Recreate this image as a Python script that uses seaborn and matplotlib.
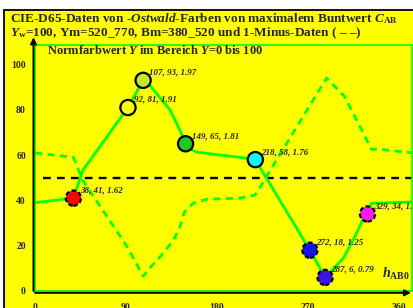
import matplotlib
matplotlib.use("Agg")
import matplotlib.pyplot as plt
import seaborn as sns
import pandas as pd
from matplotlib.patches import Rectangle
from matplotlib.lines import Line2D

# marked colours: hue angle h_AB0, Y, third value
hue_pts = [38, 92, 107, 149, 218, 272, 287, 329]
y_pts = [41, 81, 93, 65, 58, 18, 6, 34]
pt_labels = ["38, 41, 1.62", "92, 81, 1.91", "107, 93, 1.97", "149, 65, 1.81",
             "218, 58, 1.76", "272, 18, 1.25", "287, 6, 0.79", "329, 34, 1.53"]
pt_colors = ["#ff0000", "#ffff00", "#c8e628", "#20c820",
             "#00ffff", "#1414f0", "#3c14e6", "#f01ef0"]
dashed_edge = [True, False, False, False, False, True, True, True]

# solid curve (data)
sol_h = [0, 38, 47.5, 92, 107, 112, 133.5, 143.4, 149, 156.5, 160, 203, 218,
         272, 287, 305, 316.5, 324.8, 329, 333, 373]
sol_y = [39, 41, 53.4, 81, 93, 91.7, 80, 71, 65, 62, 61.3, 59, 58,
         18, 6, 14.4, 24, 32, 34, 38.7, 39.3]

# dashed curve (1-minus data)
dash_h = [0, 38, 47, 92, 107, 115, 127, 137, 143, 148, 156.5, 170, 203, 218,
          229, 272, 288.5, 306, 321, 333, 339, 373]
dash_y = [61, 59, 49, 19, 6.5, 10.8, 16.7, 22.5, 27.8, 35, 38.7, 40.5, 41, 42.4,
          50.5, 82, 94, 86, 73, 62.5, 62.7, 61]

x_ticks = [0, 90, 180, 270, 360]
y_ticks = [0, 20, 40, 60, 80, 100]

sns.set_style("white")
plt.rcParams["font.family"] = ["Liberation Serif", "DejaVu Serif"]
plt.rcParams["font.weight"] = "bold"
plt.rcParams["mathtext.fontset"] = "custom"
plt.rcParams["mathtext.rm"] = "Liberation Serif:bold"
plt.rcParams["mathtext.bf"] = "Liberation Serif:bold"
plt.rcParams["mathtext.it"] = "Liberation Serif:bold:italic"

W, H = 413, 308
fig = plt.figure(figsize=(W / 100, H / 100), dpi=100)
fig.patch.set_facecolor("white")
fig.add_artist(Rectangle((5 / W, 0), 1, 1 - 10 / H, transform=fig.transFigure,
                         facecolor="#ffff00", edgecolor="none", zorder=0))
fig.add_artist(Line2D([4 / W, 1], [1 - 9.5 / H, 1 - 9.5 / H], color="black", lw=1.3,
                      transform=fig.transFigure))
fig.add_artist(Line2D([4.3 / W, 4.3 / W], [0, 1 - 9.5 / H], color="black", lw=1.3,
                      transform=fig.transFigure))

ax = fig.add_axes([35 / W, 17 / H, 377 / W, 246 / H])
ax.set_facecolor("#ffff00")

sns.lineplot(x=sol_h, y=sol_y, sort=False, estimator=None, color="#00ff00",
             lw=2, ax=ax, zorder=3)
sns.lineplot(x=dash_h, y=dash_y, sort=False, estimator=None, color="#00ff00",
             lw=2, ax=ax, zorder=3, linestyle=(0, (2.6, 1.9)))
ax.plot([8, 373], [50, 50], color="black", lw=1.7, dashes=(3.3, 2.6), zorder=2)

pts = pd.DataFrame({"h": hue_pts, "Y": y_pts, "lab": pt_labels,
                    "dashed": dashed_edge})
pal = dict(zip(pt_labels, pt_colors))
for d, ls in [(False, "-"), (True, (0, (2, 1.2)))]:
    sub = pts[pts["dashed"] == d]
    sns.scatterplot(data=sub, x="h", y="Y", hue="lab", palette=pal, s=120,
                    edgecolor="black", linewidth=1.6, linestyle=ls,
                    legend=False, ax=ax, zorder=4)

for h, y, lab in zip(hue_pts, y_pts, pt_labels):
    ax.annotate(lab, (h, y), xytext=(4.5, 5.5), textcoords="offset points",
                ha="left", va="center", fontsize=6.5, style="italic",
                weight="bold", clip_on=True, zorder=5)

ax.set_xlim(0, 373)
ax.set_ylim(0, 108.6)
ax.set_xlabel("")
ax.set_ylabel("")
for sp in ax.spines.values():
    sp.set_color("#00ff00")
    sp.set_linewidth(1.2)

ax.set_xticks(x_ticks)
ax.set_yticks(y_ticks)
ax.tick_params(axis="x", direction="inout", length=9, width=1.8, color="black",
               pad=4.5, labelsize=7)
ax.tick_params(axis="y", direction="inout", length=8, width=1.8, color="black",
               pad=2.5, labelsize=7)
for t in ax.get_xticklabels() + ax.get_yticklabels():
    t.set_fontweight("bold")

# black axes with arrows
ax.annotate("", xy=(372, -0.8), xytext=(0, -0.8),
            arrowprops=dict(arrowstyle="-|>", color="black", lw=1.4,
                            mutation_scale=9, shrinkA=0, shrinkB=0),
            annotation_clip=False)
ax.annotate("", xy=(-1.5, 112), xytext=(-1.5, 0),
            arrowprops=dict(arrowstyle="-|>", color="black", lw=1.4,
                            mutation_scale=9, shrinkA=0, shrinkB=0),
            annotation_clip=False)

ax.text(0.031, 0.976, "Normfarbwert $Y$ im Bereich $Y$=0 bis 100",
        transform=ax.transAxes, ha="left", va="center", fontsize=9,
        weight="bold")
ax.text(343, 5.7, r"$h_\mathrm{AB0}$", ha="left", va="baseline", fontsize=10)

fig.text(10 / W, 1 - 22.5 / H,
         r"CIE-D65-Daten von -$Ostwald$-Farben von maximalem Buntwert $C_\mathrm{AB}$",
         ha="left", va="baseline", fontsize=9.5, weight="bold")
fig.text(10 / W, 1 - 36.5 / H,
         r"$Y_\mathrm{w}$=100, Ym=520_770, Bm=380_520 und 1-Minus-Daten ( – –)",
         ha="left", va="baseline", fontsize=9.5, weight="bold")

fig.savefig("out.png", dpi=100)
